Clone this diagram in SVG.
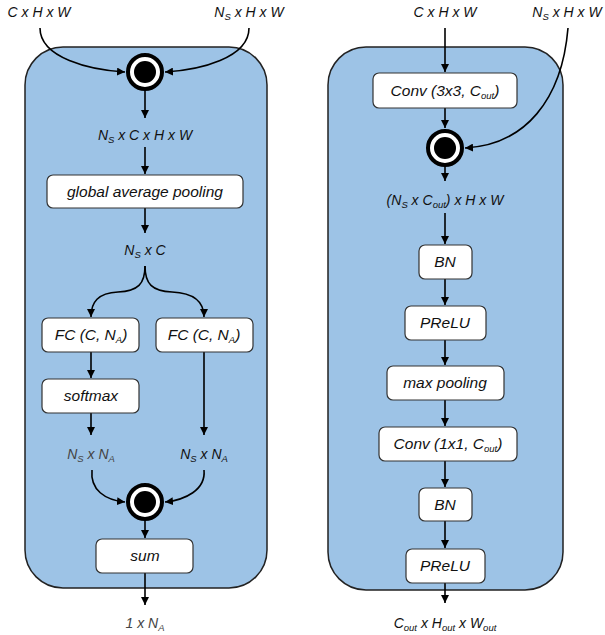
<svg xmlns="http://www.w3.org/2000/svg" width="605" height="635" viewBox="0 0 605 635">
<defs>
<marker id="ah" markerUnits="userSpaceOnUse" markerWidth="9" markerHeight="8" refX="8" refY="4" orient="auto">
<path d="M0,0 L8,4 L0,8 z" fill="#000"/>
</marker>
<style>
.panel{fill:#9DC3E6;stroke:#222;stroke-width:1.5}
.box{fill:#fff;stroke:#333;stroke-width:1.2}
.t{font-family:"Liberation Sans",Arial,sans-serif;font-style:italic;font-size:15.5px;fill:#111;text-anchor:middle}
.d{font-family:"Liberation Sans",Arial,sans-serif;font-style:italic;font-size:14px;fill:#111;text-anchor:middle}
.g{fill:#444}
.s{font-size:9.5px}
.c{fill:none;stroke:#000;stroke-width:1.6;marker-end:url(#ah)}
.op{fill:#fff;stroke:#000;stroke-width:4}
</style>
</defs>
<rect class="panel" x="25" y="47" width="242" height="541" rx="38"/>
<rect class="panel" x="328" y="47" width="235" height="543" rx="38"/>

<g id="connectors">
<path class="c" d="M40,28 C40,58 90,70 125,72"/>
<path class="c" d="M249,28 C249,58 200,70 165,72"/>
<path class="c" d="M145,91 L145,118"/>
<path class="c" d="M145,147 L145,174"/>
<path class="c" d="M145,208 L145,233"/>
<path class="c" d="M145,266 C145,284 138,291 118,292 C98,293 91,302 91,317"/>
<path class="c" d="M145,266 C145,284 152,291 172,292 C194,293 204,302 204,317"/>
<path class="c" d="M91,352 L91,378"/>
<path class="c" d="M91,413 L91,435"/>
<path class="c" d="M204,352 L204,435"/>
<path class="c" d="M92,470 C90,490 105,500 125,502"/>
<path class="c" d="M204,470 C206,490 185,500 165,502"/>
<path class="c" d="M145,521 L145,538"/>
<path class="c" d="M145,573 L145,605"/>
<path class="c" d="M445,28 L445,72"/>
<path class="c" d="M445,108 L445,128"/>
<path class="c" d="M568,28 C562,100 525,145 465,148"/>
<path class="c" d="M445,167 L445,181"/>
<path class="c" d="M445,213 L445,244"/>
<path class="c" d="M445,279 L445,305"/>
<path class="c" d="M445,340 L445,365"/>
<path class="c" d="M445,400 L445,426"/>
<path class="c" d="M445,461 L445,487"/>
<path class="c" d="M445,521 L445,548"/>
<path class="c" d="M445,583 L445,603"/>
</g>

<g id="in-left-1"><text class="d" x="39" y="17">C x H x W</text></g>
<g id="in-left-2"><text class="d" x="249" y="17">N<tspan class="s" dy="3">S</tspan><tspan dy="-3"> x H x W</tspan></text></g>
<g id="op-left-1"><circle class="op" cx="145" cy="72" r="17"/><circle cx="145" cy="72" r="11" fill="#000"/></g>
<g id="lbl-nschw"><text class="d" x="145" y="140">N<tspan class="s" dy="3">S</tspan><tspan dy="-3"> x C x H x W</tspan></text></g>
<g id="gap"><rect class="box" x="47" y="175" width="196" height="33" rx="6"/><text class="t" x="145" y="197">global average pooling</text></g>
<g id="lbl-nsc"><text class="d" x="145" y="255">N<tspan class="s" dy="3">S</tspan><tspan dy="-3"> x C</tspan></text></g>
<g id="fc1"><rect class="box" x="42" y="318" width="97" height="34" rx="6"/><text class="t" x="91" y="340">FC (C, N<tspan class="s" dy="3">A</tspan><tspan dy="-3">)</tspan></text></g>
<g id="fc2"><rect class="box" x="156" y="318" width="97" height="34" rx="6"/><text class="t" x="204" y="340">FC (C, N<tspan class="s" dy="3">A</tspan><tspan dy="-3">)</tspan></text></g>
<g id="softmax"><rect class="box" x="42" y="379" width="97" height="34" rx="6"/><text class="t" x="91" y="401">softmax</text></g>
<g id="lbl-nsna-1"><text class="d g" x="91" y="459">N<tspan class="s" dy="3">S</tspan><tspan dy="-3"> x N</tspan><tspan class="s" dy="3">A</tspan></text></g>
<g id="lbl-nsna-2"><text class="d" x="204" y="459">N<tspan class="s" dy="3">S</tspan><tspan dy="-3"> x N</tspan><tspan class="s" dy="3">A</tspan></text></g>
<g id="op-left-2"><circle class="op" cx="145" cy="502" r="17"/><circle cx="145" cy="502" r="11" fill="#000"/></g>
<g id="sum"><rect class="box" x="96" y="539" width="97" height="34" rx="6"/><text class="t" x="145" y="561">sum</text></g>
<g id="out-left"><text class="d g" x="145" y="628">1 x N<tspan class="s" dy="3">A</tspan></text></g>

<g id="in-right-1"><text class="d" x="445" y="17">C x H x W</text></g>
<g id="in-right-2"><text class="d" x="567" y="17">N<tspan class="s" dy="3">S</tspan><tspan dy="-3"> x H x W</tspan></text></g>
<g id="conv3"><rect class="box" x="373" y="73" width="144" height="35" rx="6"/><text class="t" x="445" y="96">Conv (3x3, C<tspan class="s" dy="3">out</tspan><tspan dy="-3">)</tspan></text></g>
<g id="op-right"><circle class="op" cx="445" cy="148" r="17"/><circle cx="445" cy="148" r="11" fill="#000"/></g>
<g id="lbl-nscout"><text class="d" x="445" y="205">(N<tspan class="s" dy="3">S</tspan><tspan dy="-3"> x C</tspan><tspan class="s" dy="3">out</tspan><tspan dy="-3">) x H x W</tspan></text></g>
<g id="bn1"><rect class="box" x="419" y="245" width="53" height="34" rx="6"/><text class="t" x="445" y="267">BN</text></g>
<g id="prelu1"><rect class="box" x="405" y="306" width="81" height="34" rx="6"/><text class="t" x="445" y="328">PReLU</text></g>
<g id="maxpool"><rect class="box" x="387" y="366" width="117" height="34" rx="6"/><text class="t" x="445" y="388">max pooling</text></g>
<g id="conv1"><rect class="box" x="379" y="427" width="138" height="34" rx="6"/><text class="t" x="448" y="449">Conv (1x1, C<tspan class="s" dy="3">out</tspan><tspan dy="-3">)</tspan></text></g>
<g id="bn2"><rect class="box" x="419" y="488" width="53" height="33" rx="6"/><text class="t" x="445" y="510">BN</text></g>
<g id="prelu2"><rect class="box" x="406" y="549" width="79" height="34" rx="6"/><text class="t" x="445" y="571">PReLU</text></g>
<g id="out-right"><text class="d" x="445" y="628">C<tspan class="s" dy="3">out</tspan><tspan dy="-3"> x H</tspan><tspan class="s" dy="3">out</tspan><tspan dy="-3"> x W</tspan><tspan class="s" dy="3">out</tspan></text></g>
</svg>
